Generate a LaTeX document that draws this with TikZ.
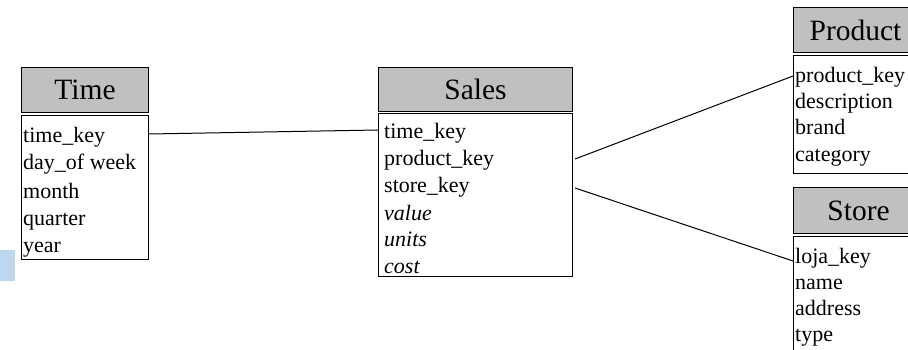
\documentclass[tikz,border=0pt]{standalone}
\usepackage{fontspec}
\setmainfont{Liberation Serif}
\definecolor{headgray}{HTML}{C0C0C0}
\definecolor{noteblue}{HTML}{BDD7EE}
\tikzset{
  headbox/.style={draw=black, line width=1.1pt, fill=headgray, inner sep=0pt,
    anchor=north west, font=\fontsize{29.5}{32}\selectfont},
  bodybox/.style={draw=black, line width=1.1pt, fill=white, inner sep=0pt, anchor=north west},
  attr/.style={anchor=base west, inner sep=0pt, font=\fontsize{22}{24}\selectfont},
  link/.style={draw=black, line width=1pt}
}
\begin{document}
\begin{tikzpicture}[x=1pt,y=-1pt]
\useasboundingbox (0,0) rectangle (908,350);
\begin{scope}
\clip (0,0) rectangle (908,350);

% side marker
\fill[noteblue] (0,250) rectangle (15,281);

% Time dimension
\node[headbox, minimum width=127pt, minimum height=45pt] (timeH) at (21,67) {Time};
\node[bodybox, minimum width=127pt, minimum height=144pt] (timeB) at (21,115) {};
\node[attr] (t1) at (23,143) {time\_key};
\node[attr] (t2) at (23,170) {day\_of week};
\node[attr] (t3) at (23,198) {month};
\node[attr] (t4) at (23,225) {quarter};
\node[attr] (t5) at (23,252) {year};

% Sales fact table
\node[headbox, minimum width=194pt, minimum height=44pt] (salesH) at (378,67) {Sales};
\node[bodybox, minimum width=194pt, minimum height=163pt] (salesB) at (378,113) {};
\node[attr] (s1) at (384,139) {time\_key};
\node[attr] (s2) at (384,166) {product\_key};
\node[attr] (s3) at (384,193) {store\_key};
\node[attr] (s4) at (384,220) {\itshape value};
\node[attr] (s5) at (384,246) {\itshape units};
\node[attr] (s6) at (384,273) {\itshape cost};

% Product dimension
\node[headbox, minimum width=124pt, minimum height=45pt] (prodH) at (793,7) {Product};
\node[bodybox, minimum width=124pt, minimum height=118pt] (prodB) at (793,55) {};
\node[attr] (p1) at (795,83) {product\_key};
\node[attr] (p2) at (795,109) {description};
\node[attr] (p3) at (795,135) {brand};
\node[attr] (p4) at (795,161) {category};

% Store dimension
\node[headbox, minimum width=130pt, minimum height=46pt] (storeH) at (793,187) {Store};
\node[bodybox, minimum width=130pt, minimum height=130pt] (storeB) at (793,236) {};
\node[attr] (r1) at (795,263) {loja\_key};
\node[attr] (r2) at (795,289) {name};
\node[attr] (r3) at (795,315) {address};
\node[attr] (r4) at (795,341) {type};

% connector ends on the box borders
\coordinate (timeOut)  at (timeB.east |- 0,134);
\coordinate (salesIn)  at (salesB.west |- 0,130);
\coordinate (salesP)   at (salesB.east |- 0,159);
\coordinate (salesS)   at (salesB.east |- 0,188);
\coordinate (prodIn)   at (prodB.west |- 0,76);
\coordinate (storeIn)  at (storeB.west |- 0,261);

\draw[link] (timeOut) -- (salesIn);
\draw[link] ([xshift=2pt]salesP) -- (prodIn);
\draw[link] ([xshift=2pt]salesS) -- (storeIn);
\end{scope}
\end{tikzpicture}
\end{document}
